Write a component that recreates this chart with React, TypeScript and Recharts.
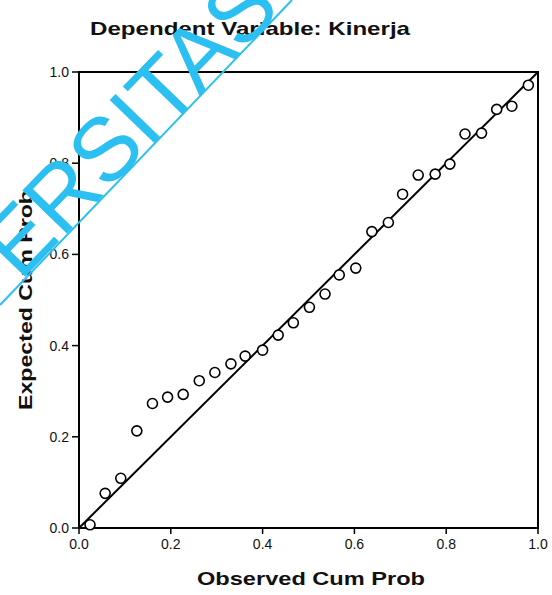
import { ScatterChart, Scatter, XAxis, YAxis, ReferenceLine, ReferenceArea } from 'recharts'

const observed = [
  0.024, 0.057, 0.091, 0.126, 0.16, 0.193, 0.227, 0.262, 0.296, 0.331,
  0.362, 0.4, 0.434, 0.467, 0.502, 0.536, 0.567, 0.603, 0.638, 0.674,
  0.705, 0.739, 0.776, 0.808, 0.841, 0.877, 0.91, 0.943, 0.979,
]
const expected = [
  0.007, 0.076, 0.109, 0.213, 0.273, 0.287, 0.293, 0.323, 0.341, 0.36,
  0.377, 0.39, 0.423, 0.45, 0.484, 0.513, 0.555, 0.57, 0.65, 0.67,
  0.732, 0.774, 0.776, 0.798, 0.864, 0.866, 0.918, 0.925, 0.971,
]
const ticks = [0, 0.2, 0.4, 0.6, 0.8, 1.0]

const points = observed.map((x, i) => ({ x, y: expected[i] }))

const font = '"Liberation Sans", Arial, sans-serif'
const tickStyle = { fill: '#111', fontSize: 14, fontFamily: font }
const fmt = (v: number) => v.toFixed(1)

const Ring = (props: any) => (
  <circle cx={props.cx} cy={props.cy} r={5} fill="#fff" stroke="#000" strokeWidth={1.6} />
)

export default function App() {
  return (
    <div style={{ position: 'absolute', left: 0, top: 0, width: 552, height: 595, background: '#fff' }}>
      <ScatterChart width={552} height={595} margin={{ top: 72, right: 14, bottom: 37, left: 0 }}>
        <XAxis
          type="number"
          dataKey="x"
          domain={[0, 1]}
          ticks={ticks}
          tickFormatter={fmt}
          tick={tickStyle}
          tickSize={6}
          tickMargin={5}
          height={30}
          axisLine={{ stroke: '#000', strokeWidth: 2 }}
          tickLine={{ stroke: '#000', strokeWidth: 1.5 }}
        />
        <YAxis
          type="number"
          dataKey="y"
          domain={[0, 1]}
          ticks={ticks}
          tickFormatter={fmt}
          tick={tickStyle}
          tickSize={7}
          tickMargin={3}
          width={79}
          axisLine={{ stroke: '#000', strokeWidth: 2 }}
          tickLine={{ stroke: '#000', strokeWidth: 1.5 }}
        />
        <ReferenceArea x1={0} x2={1} y1={0} y2={1} fill="none" stroke="#000" strokeWidth={2} />
        <ReferenceLine
          segment={[{ x: 0, y: 0 }, { x: 1, y: 1 }]}
          stroke="#000"
          strokeWidth={2}
        />
        <Scatter data={points} shape={Ring} isAnimationActive={false} />
      </ScatterChart>
      <svg
        width={552}
        height={595}
        style={{ position: 'absolute', left: 0, top: 0, pointerEvents: 'none' }}
      >
        <text x={90} y={35} fontFamily={font} fontWeight="bold" fontSize={19} fill="#111"
          textLength={320} lengthAdjust="spacingAndGlyphs">
          Dependent Variable: Kinerja
        </text>
        <text x={197} y={585} fontFamily={font} fontWeight="bold" fontSize={19} fill="#111"
          textLength={228} lengthAdjust="spacingAndGlyphs">
          Observed Cum Prob
        </text>
        <text x={0} y={0} fontFamily={font} fontWeight="bold" fontSize={19} fill="#111"
          textLength={220} lengthAdjust="spacingAndGlyphs"
          transform="translate(32,410) rotate(-90)">
          Expected Cum Prob
        </text>
        {/* watermark */}
        <line x1={0} y1={305} x2={292} y2={0} stroke="#2bbff2" strokeWidth={2} />
        <text x={0} y={0} fontFamily={font} fontSize={90} fill="#2bbff2"
          transform="translate(20,282) rotate(-46)">
          ERSITAS
        </text>
      </svg>
    </div>
  )
}
